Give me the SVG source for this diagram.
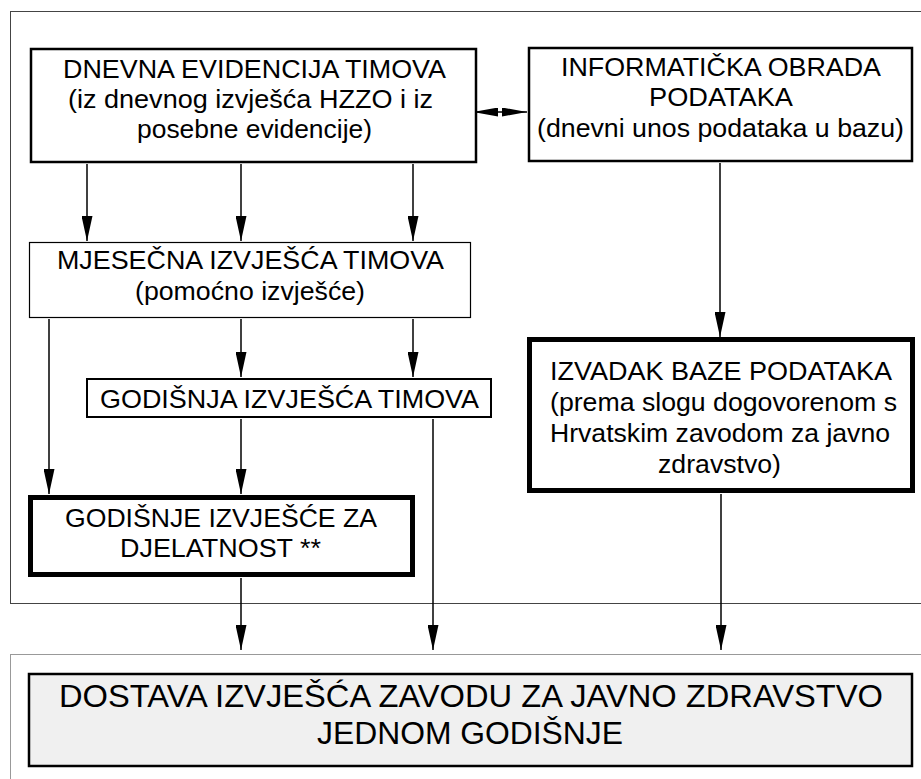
<svg xmlns="http://www.w3.org/2000/svg" width="921" height="779" viewBox="0 0 921 779">
<style>
.t{font-family:"Liberation Sans",Arial,sans-serif;font-size:25px;fill:#000;text-anchor:middle}
.big{font-size:31px}
.box{fill:#fff;stroke:#000}
.c{stroke:#000;stroke-width:1.5;fill:none}
</style>
<defs>
<marker id="ah" markerUnits="userSpaceOnUse" viewBox="0 0 25 11" refX="25" refY="5.5" markerWidth="25" markerHeight="11" orient="auto">
<path d="M0,0 L25,5.5 L0,11 z" fill="#000"/>
</marker>
<marker id="ahs" markerUnits="userSpaceOnUse" viewBox="0 0 25 9" refX="25" refY="4.5" markerWidth="25" markerHeight="9" orient="auto">
<path d="M0,0 L25,4.5 L0,9 z" fill="#000"/>
</marker>
</defs>
<rect width="921" height="779" fill="#fff"/>
<g id="frames">
<rect x="10.5" y="11.5" width="930" height="592" fill="none" stroke="#444" stroke-width="1"/>
<rect x="10.5" y="654.5" width="930" height="140" fill="none" stroke="#999" stroke-width="1"/>
</g>
<g id="connectors">
<line class="c" x1="87" y1="164" x2="87" y2="241" marker-end="url(#ah)"/>
<line class="c" x1="241" y1="164" x2="241" y2="241" marker-end="url(#ah)"/>
<line class="c" x1="413" y1="164" x2="413" y2="241" marker-end="url(#ah)"/>
<line class="c" x1="720" y1="163" x2="720" y2="337" marker-end="url(#ah)"/>
<line class="c" x1="241" y1="319" x2="241" y2="377" marker-end="url(#ah)"/>
<line class="c" x1="413" y1="319" x2="413" y2="377" marker-end="url(#ah)"/>
<line class="c" x1="49" y1="319" x2="49" y2="494" marker-end="url(#ah)"/>
<line class="c" x1="241" y1="419" x2="241" y2="494" marker-end="url(#ah)"/>
<line class="c" x1="433" y1="419" x2="433" y2="650" marker-end="url(#ah)"/>
<line class="c" x1="241" y1="578" x2="241" y2="650" marker-end="url(#ah)"/>
<line class="c" x1="721" y1="494" x2="721" y2="650" marker-end="url(#ah)"/>
<line class="c" x1="500" y1="112" x2="473" y2="112" marker-end="url(#ahs)"/>
<line class="c" x1="500" y1="112" x2="527" y2="112" marker-end="url(#ahs)"/>
</g>
<g id="dnevna">
<rect class="box" x="31" y="49" width="445" height="113" stroke-width="2.5"/>
<text class="t" x="254.5" y="78" textLength="383" lengthAdjust="spacingAndGlyphs">DNEVNA EVIDENCIJA TIMOVA</text>
<text class="t" x="250.5" y="108" textLength="365" lengthAdjust="spacingAndGlyphs">(iz dnevnog izvješća HZZO i iz</text>
<text class="t" x="254.5" y="138" textLength="235" lengthAdjust="spacingAndGlyphs">posebne evidencije)</text>
</g>
<g id="informaticka">
<rect class="box" x="529" y="48" width="383" height="113" stroke-width="2.5"/>
<text class="t" x="721" y="76" textLength="320" lengthAdjust="spacingAndGlyphs">INFORMATIČKA OBRADA</text>
<text class="t" x="721" y="106" textLength="144" lengthAdjust="spacingAndGlyphs">PODATAKA</text>
<text class="t" x="720.5" y="137" textLength="367" lengthAdjust="spacingAndGlyphs">(dnevni unos podataka u bazu)</text>
</g>
<g id="mjesecna">
<rect class="box" x="29.5" y="242.5" width="441" height="75" stroke-width="1.2"/>
<text class="t" x="250.5" y="269" textLength="387" lengthAdjust="spacingAndGlyphs">MJESEČNA IZVJEŠĆA TIMOVA</text>
<text class="t" x="250" y="300" textLength="230" lengthAdjust="spacingAndGlyphs">(pomoćno izvješće)</text>
</g>
<g id="godisnja">
<rect class="box" x="87" y="379" width="404" height="38" stroke-width="2"/>
<text class="t" x="289.5" y="408" textLength="379" lengthAdjust="spacingAndGlyphs">GODIŠNJA IZVJEŠĆA TIMOVA</text>
</g>
<g id="godisnje">
<rect class="box" x="30.5" y="497.5" width="382" height="77" stroke-width="5"/>
<text class="t" x="221" y="527" textLength="312" lengthAdjust="spacingAndGlyphs">GODIŠNJE IZVJEŠĆE ZA</text>
<text class="t" x="220.5" y="557" textLength="201" lengthAdjust="spacingAndGlyphs">DJELATNOST **</text>
</g>
<g id="izvadak">
<rect class="box" x="529.5" y="339.5" width="383" height="151" stroke-width="5"/>
<text class="t" x="721" y="380" textLength="342" lengthAdjust="spacingAndGlyphs">IZVADAK BAZE PODATAKA</text>
<text class="t" x="723.5" y="411" textLength="347" lengthAdjust="spacingAndGlyphs">(prema slogu dogovorenom s</text>
<text class="t" x="720" y="442" textLength="340" lengthAdjust="spacingAndGlyphs">Hrvatskim zavodom za javno</text>
<text class="t" x="719.5" y="473" textLength="123" lengthAdjust="spacingAndGlyphs">zdravstvo)</text>
</g>
<g id="dostava">
<rect x="29" y="674" width="883" height="92" fill="#f0f0f0" stroke="#000" stroke-width="2.5"/>
<text class="t big" x="471" y="707" textLength="824" lengthAdjust="spacingAndGlyphs">DOSTAVA IZVJEŠĆA ZAVODU ZA JAVNO ZDRAVSTVO</text>
<text class="t big" x="470" y="744" textLength="306" lengthAdjust="spacingAndGlyphs">JEDNOM GODIŠNJE</text>
</g>
</svg>
